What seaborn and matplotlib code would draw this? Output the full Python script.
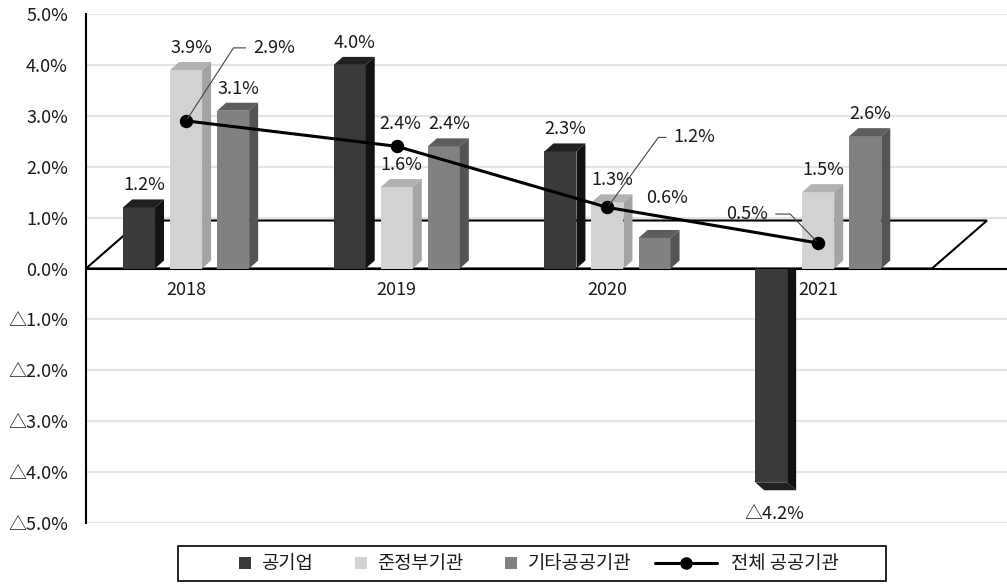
import numpy as np
import pandas as pd
import matplotlib
matplotlib.use("Agg")
import matplotlib.pyplot as plt
from matplotlib.colors import to_hex
from matplotlib.lines import Line2D
from matplotlib.patches import Polygon, Rectangle
from matplotlib.transforms import IdentityTransform
from matplotlib.offsetbox import DrawingArea, TextArea, HPacker, AnchoredOffsetbox
import seaborn as sns

# ---- data: annual growth rate by institution type (%) ----
years = ["2018", "2019", "2020", "2021"]
series_names = ["공기업", "준정부기관", "기타공공기관"]
public_corporations = [1.2, 4.0, 2.3, -4.2]
quasi_government = [3.9, 1.6, 1.3, 1.5]
other_public = [3.1, 2.4, 0.6, 2.6]
total_name = "전체 공공기관"
total_public = [2.9, 2.4, 1.2, 0.5]
y_ticks = [5, 4, 3, 2, 1, 0, -1, -2, -3, -4, -5]

# ---- styling ----
front_colors = ["#3a3a3a", "#d2d2d2", "#818181"]
top_colors = ["#202020", "#b2b2b2", "#5e5e5e"]
side_colors = ["#121212", "#a4a4a4", "#545454"]
TEXT = "#1a1a1a"
FS = 13
LEGEND_FS = 13.5
W, H, DPI = 1007, 584, 100
DEPTH = (9, 8)            # bar depth in pixels (right, up)
FLOOR_DEPTH = (55, 48)    # floor depth in pixels
FLOOR_RIGHT = 0.9186      # floor front-right corner, axes fraction

# label offsets in pixels (dx, dy) relative to the value point
bar_label_offset = (5, 22)
bar_label_offset_neg = (3, -32)
bar_label_nudge = {("기타공공기관", "2020"): (8, 18)}
total_label_style = {
    "2018": dict(offset=(67, 73), ha="left", angle=57),
    "2019": dict(offset=(3, 22), ha="center", angle=None),
    "2020": dict(offset=(66, 70), ha="left", angle=54),
    "2021": dict(offset=(-50, 29), ha="right", angle=134),
}


def fmt(v):
    return f"{v:.1f}%" if v >= 0 else f"△{abs(v):.1f}%"


sns.set_style("white")
plt.rcParams["font.family"] = ["Noto Sans CJK KR", "DejaVu Sans"]

fig = plt.figure(figsize=(W / DPI, H / DPI), dpi=DPI)
ax = fig.add_axes([86 / W, 61 / H, 921 / W, 509 / H])

df = pd.DataFrame({
    "연도": years * 3,
    "구분": np.repeat(series_names, len(years)),
    "증가율": public_corporations + quasi_government + other_public,
})
sns.barplot(data=df, x="연도", y="증가율", hue="구분", order=years,
            hue_order=series_names, palette=front_colors, saturation=1,
            width=0.67, gap=0.32, errorbar=None, legend=False,
            linewidth=0, zorder=3, ax=ax)
sns.pointplot(x=years, y=total_public, order=years, color="black",
              markers="o", markersize=8, linewidth=2.2, errorbar=None,
              zorder=6, ax=ax)

ax.set_xlim(-0.475, 3.896)
ax.set_ylim(-5, 5)
ax.set_xlabel("")
ax.set_ylabel("")

# axes frame: y spine on the left, category axis running along zero
for side in ("top", "right"):
    ax.spines[side].set_visible(False)
ax.spines["left"].set_color("black")
ax.spines["left"].set_linewidth(1.5)
ax.spines["bottom"].set_position(("data", 0))
ax.spines["bottom"].set_color("black")
ax.spines["bottom"].set_linewidth(1.5)
ax.spines["bottom"].set_zorder(2.6)

ax.set_yticks(y_ticks, [fmt(v) for v in y_ticks])
ax.tick_params(axis="y", direction="out", length=7, width=1.3, pad=6,
               labelsize=FS, color="black", labelcolor=TEXT)
ax.set_xticks(range(len(years)), years)
ax.set_xticks(np.arange(len(years) - 1) + 0.5, minor=True)
ax.tick_params(axis="x", which="major", length=0, pad=9, labelsize=FS,
               labelcolor=TEXT)
ax.tick_params(axis="x", which="minor", direction="out", length=6,
               width=1.5, color="black")

ax.yaxis.grid(True, color="#e4e4e4", linewidth=1.6)
ax.xaxis.grid(False)
ax.set_axisbelow(True)

to_px = ax.transData.transform

# ---- floor plane ----
fl = ax.transAxes.transform((0, 0))[0]
fr = ax.transAxes.transform((FLOOR_RIGHT, 0))[0]
fy = to_px((0, 0))[1]
fdx, fdy = FLOOR_DEPTH
floor = Polygon([(fl, fy), (fr, fy), (fr + fdx, fy + fdy), (fl + fdx, fy + fdy)],
                closed=True, fill=False, edgecolor="black", linewidth=1.5,
                transform=IdentityTransform(), zorder=2.5)
ax.add_patch(floor)

# ---- 3D faces and value labels on every bar ----
hex_front = [to_hex(c) for c in front_colors]
for cont in ax.containers:
    for rect in cont.patches:
        k = hex_front.index(to_hex(rect.get_facecolor()))
        x0 = rect.get_x()
        x1 = x0 + rect.get_width()
        val = rect.get_y() + rect.get_height()
        (px0, pb), (px1, pt) = to_px((x0, 0)), to_px((x1, val))
        dx, dy = DEPTH[0], DEPTH[1] if val >= 0 else -DEPTH[1]
        cap = [(px0, pt), (px1, pt), (px1 + dx, pt + dy), (px0 + dx, pt + dy)]
        if val >= 0:
            side = [(px1, pb), (px1, pt), (px1 + dx, pt + dy), (px1 + dx, pb + dy)]
        else:
            side = [(px1, pb), (px1, pt), (px1 + dx, pt + dy), (px1 + dx, pb)]
        ax.add_patch(Polygon(cap, closed=True, facecolor=top_colors[k],
                             edgecolor="none", transform=IdentityTransform(),
                             zorder=3.1))
        ax.add_patch(Polygon(side, closed=True, facecolor=side_colors[k],
                             edgecolor="none", transform=IdentityTransform(),
                             zorder=3.1))

        xc = (x0 + x1) / 2
        year = years[int(round(xc))]
        ox, oy = bar_label_offset if val >= 0 else bar_label_offset_neg
        nx, ny = bar_label_nudge.get((series_names[k], year), (0, 0))
        ax.annotate(fmt(val), xy=(xc, val), xytext=(ox + nx, oy + ny),
                    textcoords="offset pixels", ha="center", va="center",
                    fontsize=FS, color=TEXT, zorder=7)

# ---- value labels on the total line ----
for i, (year, v) in enumerate(zip(years, total_public)):
    st = total_label_style[year]
    arrow = None
    if st["angle"] is not None:
        arrow = dict(arrowstyle="-", color="#444444", linewidth=0.8,
                     connectionstyle=f"angle,angleA=0,angleB={st['angle']},rad=0",
                     shrinkA=3, shrinkB=2,
                     relpos=(0, 0.5) if st["ha"] == "left" else (1, 0.5))
    ax.annotate(fmt(v), xy=(i, v), xytext=st["offset"],
                textcoords="offset pixels", ha=st["ha"], va="center",
                fontsize=FS, color=TEXT, zorder=7, arrowprops=arrow)

# ---- legend ----
PT = 72 / DPI  # pixels -> points
text_props = dict(fontsize=LEGEND_FS, color=TEXT)
entries = []
for name, c in zip(series_names, front_colors):
    da = DrawingArea(12 * PT, 12 * PT)
    da.add_artist(Rectangle((0, 0), 12 * PT, 12 * PT, facecolor=c, edgecolor="none"))
    entries.append(HPacker(children=[da, TextArea(name, textprops=text_props)],
                           sep=10 * PT, align="center", pad=0))
line_w = 62 * PT
da = DrawingArea(line_w, 12 * PT)
da.add_artist(Line2D([0, line_w], [6 * PT, 6 * PT], color="black", linewidth=2.2))
da.add_artist(Line2D([line_w / 2], [6 * PT], color="black", marker="o",
                     markersize=8, linestyle="none"))
entries.append(HPacker(children=[da, TextArea(total_name, textprops=text_props)],
                       sep=14 * PT, align="center", pad=0))
bars_part = HPacker(children=entries[:3], sep=42 * PT, align="center", pad=0)
row = HPacker(children=[DrawingArea(30 * PT, 1), bars_part, entries[3],
                        DrawingArea(16 * PT, 1)],
              sep=24 * PT, align="center", pad=0)
legend_box = AnchoredOffsetbox(loc="upper center", child=row, pad=0.5,
                               borderpad=0, frameon=True,
                               bbox_to_anchor=(532 / W, 1 - 546 / H),
                               bbox_transform=fig.transFigure)
legend_box.patch.set_edgecolor("black")
legend_box.patch.set_linewidth(1.2)
legend_box.patch.set_facecolor("white")
fig.add_artist(legend_box)

fig.savefig("out.png", dpi=DPI, facecolor="white")
